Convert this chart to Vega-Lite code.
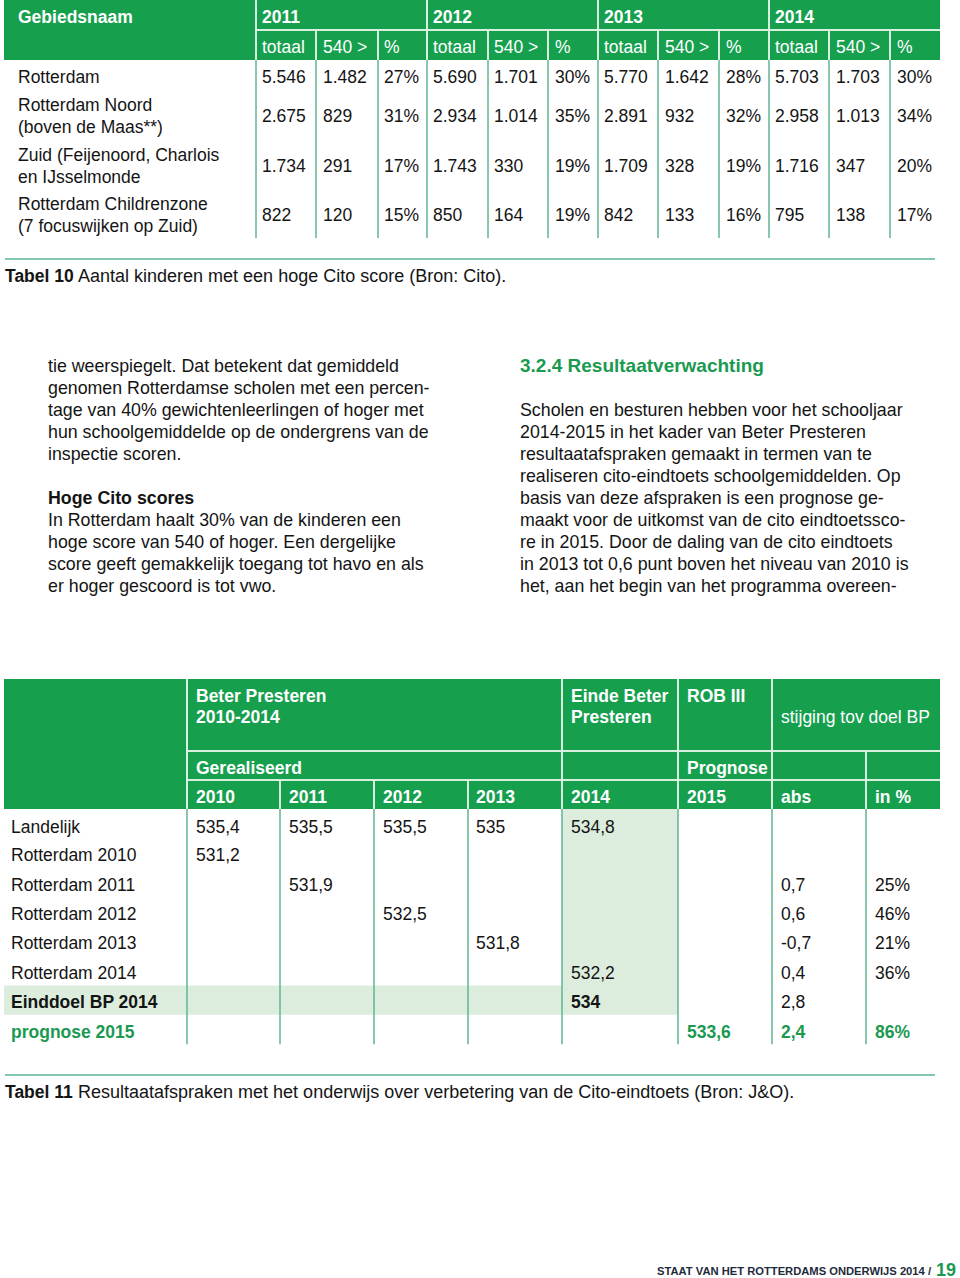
{
  "$schema": "https://vega.github.io/schema/vega-lite/v6.json",
  "width": 960,
  "height": 1278,
  "autosize": {"type": "none"},
  "padding": 0,
  "background": "#ffffff",
  "config": {"view": {"stroke": null}, "font": "Liberation Sans", "text": {"font": "Liberation Sans"}},
  "resolve": {"scale": {"x": "independent", "y": "independent", "color": "independent"}},
  "datasets": {
    "t1box": [{"c0": 0, "c1": 13, "r0": 0, "r1": 2}],
    "t1lines": [
      {"kind": "hdr", "c0": 1, "c1": 13, "r0": 1, "r1": 1},
      {"kind": "hdr", "c0": 1, "c1": 1, "r0": 0, "r1": 2},
      {"kind": "hdr", "c0": 4, "c1": 4, "r0": 0, "r1": 2},
      {"kind": "hdr", "c0": 7, "c1": 7, "r0": 0, "r1": 2},
      {"kind": "hdr", "c0": 10, "c1": 10, "r0": 0, "r1": 2},
      {"kind": "hdr", "c0": 2, "c1": 2, "r0": 1, "r1": 2},
      {"kind": "hdr", "c0": 3, "c1": 3, "r0": 1, "r1": 2},
      {"kind": "hdr", "c0": 5, "c1": 5, "r0": 1, "r1": 2},
      {"kind": "hdr", "c0": 6, "c1": 6, "r0": 1, "r1": 2},
      {"kind": "hdr", "c0": 8, "c1": 8, "r0": 1, "r1": 2},
      {"kind": "hdr", "c0": 9, "c1": 9, "r0": 1, "r1": 2},
      {"kind": "hdr", "c0": 11, "c1": 11, "r0": 1, "r1": 2},
      {"kind": "hdr", "c0": 12, "c1": 12, "r0": 1, "r1": 2},
      {"kind": "grid", "c0": 1, "c1": 1, "r0": 2, "r1": 6},
      {"kind": "grid", "c0": 2, "c1": 2, "r0": 2, "r1": 6},
      {"kind": "grid", "c0": 3, "c1": 3, "r0": 2, "r1": 6},
      {"kind": "grid", "c0": 4, "c1": 4, "r0": 2, "r1": 6},
      {"kind": "grid", "c0": 5, "c1": 5, "r0": 2, "r1": 6},
      {"kind": "grid", "c0": 6, "c1": 6, "r0": 2, "r1": 6},
      {"kind": "grid", "c0": 7, "c1": 7, "r0": 2, "r1": 6},
      {"kind": "grid", "c0": 8, "c1": 8, "r0": 2, "r1": 6},
      {"kind": "grid", "c0": 9, "c1": 9, "r0": 2, "r1": 6},
      {"kind": "grid", "c0": 10, "c1": 10, "r0": 2, "r1": 6},
      {"kind": "grid", "c0": 11, "c1": 11, "r0": 2, "r1": 6},
      {"kind": "grid", "c0": 12, "c1": 12, "r0": 2, "r1": 6}
    ],
    "t1": [
      {"row": 0, "col": 0, "kind": "head", "text": "Gebiedsnaam"},
      {"row": 0, "col": 1, "kind": "head", "text": "2011"},
      {"row": 0, "col": 4, "kind": "head", "text": "2012"},
      {"row": 0, "col": 7, "kind": "head", "text": "2013"},
      {"row": 0, "col": 10, "kind": "head", "text": "2014"},
      {"row": 1, "col": 1, "kind": "sub", "text": "totaal"},
      {"row": 1, "col": 2, "kind": "sub", "text": "540 >"},
      {"row": 1, "col": 3, "kind": "sub", "text": "%"},
      {"row": 1, "col": 4, "kind": "sub", "text": "totaal"},
      {"row": 1, "col": 5, "kind": "sub", "text": "540 >"},
      {"row": 1, "col": 6, "kind": "sub", "text": "%"},
      {"row": 1, "col": 7, "kind": "sub", "text": "totaal"},
      {"row": 1, "col": 8, "kind": "sub", "text": "540 >"},
      {"row": 1, "col": 9, "kind": "sub", "text": "%"},
      {"row": 1, "col": 10, "kind": "sub", "text": "totaal"},
      {"row": 1, "col": 11, "kind": "sub", "text": "540 >"},
      {"row": 1, "col": 12, "kind": "sub", "text": "%"},
      {"row": 2, "col": 0, "kind": "body", "text": "Rotterdam"},
      {"row": 2, "col": 1, "kind": "body", "text": "5.546"},
      {"row": 2, "col": 2, "kind": "body", "text": "1.482"},
      {"row": 2, "col": 3, "kind": "body", "text": "27%"},
      {"row": 2, "col": 4, "kind": "body", "text": "5.690"},
      {"row": 2, "col": 5, "kind": "body", "text": "1.701"},
      {"row": 2, "col": 6, "kind": "body", "text": "30%"},
      {"row": 2, "col": 7, "kind": "body", "text": "5.770"},
      {"row": 2, "col": 8, "kind": "body", "text": "1.642"},
      {"row": 2, "col": 9, "kind": "body", "text": "28%"},
      {"row": 2, "col": 10, "kind": "body", "text": "5.703"},
      {"row": 2, "col": 11, "kind": "body", "text": "1.703"},
      {"row": 2, "col": 12, "kind": "body", "text": "30%"},
      {"row": 3, "col": 0, "kind": "name2", "text": "Rotterdam Noord\n(boven de Maas**)"},
      {"row": 3, "col": 1, "kind": "body", "text": "2.675"},
      {"row": 3, "col": 2, "kind": "body", "text": "829"},
      {"row": 3, "col": 3, "kind": "body", "text": "31%"},
      {"row": 3, "col": 4, "kind": "body", "text": "2.934"},
      {"row": 3, "col": 5, "kind": "body", "text": "1.014"},
      {"row": 3, "col": 6, "kind": "body", "text": "35%"},
      {"row": 3, "col": 7, "kind": "body", "text": "2.891"},
      {"row": 3, "col": 8, "kind": "body", "text": "932"},
      {"row": 3, "col": 9, "kind": "body", "text": "32%"},
      {"row": 3, "col": 10, "kind": "body", "text": "2.958"},
      {"row": 3, "col": 11, "kind": "body", "text": "1.013"},
      {"row": 3, "col": 12, "kind": "body", "text": "34%"},
      {"row": 4, "col": 0, "kind": "name2", "text": "Zuid (Feijenoord, Charlois\nen IJsselmonde"},
      {"row": 4, "col": 1, "kind": "body", "text": "1.734"},
      {"row": 4, "col": 2, "kind": "body", "text": "291"},
      {"row": 4, "col": 3, "kind": "body", "text": "17%"},
      {"row": 4, "col": 4, "kind": "body", "text": "1.743"},
      {"row": 4, "col": 5, "kind": "body", "text": "330"},
      {"row": 4, "col": 6, "kind": "body", "text": "19%"},
      {"row": 4, "col": 7, "kind": "body", "text": "1.709"},
      {"row": 4, "col": 8, "kind": "body", "text": "328"},
      {"row": 4, "col": 9, "kind": "body", "text": "19%"},
      {"row": 4, "col": 10, "kind": "body", "text": "1.716"},
      {"row": 4, "col": 11, "kind": "body", "text": "347"},
      {"row": 4, "col": 12, "kind": "body", "text": "20%"},
      {"row": 5, "col": 0, "kind": "name2", "text": "Rotterdam Childrenzone\n(7 focuswijken op Zuid)"},
      {"row": 5, "col": 1, "kind": "body", "text": "822"},
      {"row": 5, "col": 2, "kind": "body", "text": "120"},
      {"row": 5, "col": 3, "kind": "body", "text": "15%"},
      {"row": 5, "col": 4, "kind": "body", "text": "850"},
      {"row": 5, "col": 5, "kind": "body", "text": "164"},
      {"row": 5, "col": 6, "kind": "body", "text": "19%"},
      {"row": 5, "col": 7, "kind": "body", "text": "842"},
      {"row": 5, "col": 8, "kind": "body", "text": "133"},
      {"row": 5, "col": 9, "kind": "body", "text": "16%"},
      {"row": 5, "col": 10, "kind": "body", "text": "795"},
      {"row": 5, "col": 11, "kind": "body", "text": "138"},
      {"row": 5, "col": 12, "kind": "body", "text": "17%"}
    ],
    "t2box": [
      {"kind": "head", "c0": 0, "c1": 9, "r0": 0, "r1": 3},
      {"kind": "light", "c0": 5, "c1": 6, "r0": 3, "r1": 10},
      {"kind": "light", "c0": 0, "c1": 5, "r0": 9, "r1": 10}
    ],
    "t2lines": [
      {"kind": "hdr", "c0": 1, "c1": 9, "r0": 1, "r1": 1},
      {"kind": "hdr", "c0": 1, "c1": 9, "r0": 2, "r1": 2},
      {"kind": "hdr", "c0": 1, "c1": 1, "r0": 0, "r1": 3},
      {"kind": "hdr", "c0": 5, "c1": 5, "r0": 0, "r1": 3},
      {"kind": "hdr", "c0": 6, "c1": 6, "r0": 0, "r1": 3},
      {"kind": "hdr", "c0": 7, "c1": 7, "r0": 0, "r1": 3},
      {"kind": "hdr", "c0": 8, "c1": 8, "r0": 1, "r1": 3},
      {"kind": "hdr", "c0": 2, "c1": 2, "r0": 2, "r1": 3},
      {"kind": "hdr", "c0": 3, "c1": 3, "r0": 2, "r1": 3},
      {"kind": "hdr", "c0": 4, "c1": 4, "r0": 2, "r1": 3},
      {"kind": "grid", "c0": 1, "c1": 1, "r0": 3, "r1": 11},
      {"kind": "grid", "c0": 2, "c1": 2, "r0": 3, "r1": 11},
      {"kind": "grid", "c0": 3, "c1": 3, "r0": 3, "r1": 11},
      {"kind": "grid", "c0": 4, "c1": 4, "r0": 3, "r1": 11},
      {"kind": "grid", "c0": 5, "c1": 5, "r0": 3, "r1": 11},
      {"kind": "grid", "c0": 6, "c1": 6, "r0": 3, "r1": 11},
      {"kind": "grid", "c0": 7, "c1": 7, "r0": 3, "r1": 11},
      {"kind": "grid", "c0": 8, "c1": 8, "r0": 3, "r1": 11}
    ],
    "t2": [
      {"row": 0, "col": 1, "kind": "head", "text": "Beter Presteren"},
      {"row": 1, "col": 1, "kind": "head", "text": "2010-2014"},
      {"row": 0, "col": 5, "kind": "head", "text": "Einde Beter"},
      {"row": 1, "col": 5, "kind": "head", "text": "Presteren"},
      {"row": 0, "col": 6, "kind": "head", "text": "ROB III"},
      {"row": 1, "col": 7, "kind": "headn", "text": "stijging tov doel BP"},
      {"row": 2, "col": 1, "kind": "head", "text": "Gerealiseerd"},
      {"row": 2, "col": 6, "kind": "head", "text": "Prognose"},
      {"row": 3, "col": 1, "kind": "head", "text": "2010"},
      {"row": 3, "col": 2, "kind": "head", "text": "2011"},
      {"row": 3, "col": 3, "kind": "head", "text": "2012"},
      {"row": 3, "col": 4, "kind": "head", "text": "2013"},
      {"row": 3, "col": 5, "kind": "head", "text": "2014"},
      {"row": 3, "col": 6, "kind": "head", "text": "2015"},
      {"row": 3, "col": 7, "kind": "head", "text": "abs"},
      {"row": 3, "col": 8, "kind": "head", "text": "in %"},
      {"row": 4, "col": 0, "kind": "body", "text": "Landelijk"},
      {"row": 4, "col": 1, "kind": "body", "text": "535,4"},
      {"row": 4, "col": 2, "kind": "body", "text": "535,5"},
      {"row": 4, "col": 3, "kind": "body", "text": "535,5"},
      {"row": 4, "col": 4, "kind": "body", "text": "535"},
      {"row": 4, "col": 5, "kind": "body", "text": "534,8"},
      {"row": 5, "col": 0, "kind": "body", "text": "Rotterdam 2010"},
      {"row": 5, "col": 1, "kind": "body", "text": "531,2"},
      {"row": 6, "col": 0, "kind": "body", "text": "Rotterdam 2011"},
      {"row": 6, "col": 2, "kind": "body", "text": "531,9"},
      {"row": 6, "col": 7, "kind": "body", "text": "0,7"},
      {"row": 6, "col": 8, "kind": "body", "text": "25%"},
      {"row": 7, "col": 0, "kind": "body", "text": "Rotterdam 2012"},
      {"row": 7, "col": 3, "kind": "body", "text": "532,5"},
      {"row": 7, "col": 7, "kind": "body", "text": "0,6"},
      {"row": 7, "col": 8, "kind": "body", "text": "46%"},
      {"row": 8, "col": 0, "kind": "body", "text": "Rotterdam 2013"},
      {"row": 8, "col": 4, "kind": "body", "text": "531,8"},
      {"row": 8, "col": 7, "kind": "body", "text": "-0,7"},
      {"row": 8, "col": 8, "kind": "body", "text": "21%"},
      {"row": 9, "col": 0, "kind": "body", "text": "Rotterdam 2014"},
      {"row": 9, "col": 5, "kind": "body", "text": "532,2"},
      {"row": 9, "col": 7, "kind": "body", "text": "0,4"},
      {"row": 9, "col": 8, "kind": "body", "text": "36%"},
      {"row": 10, "col": 0, "kind": "bold", "text": "Einddoel BP 2014"},
      {"row": 10, "col": 5, "kind": "bold", "text": "534"},
      {"row": 10, "col": 7, "kind": "body", "text": "2,8"},
      {"row": 11, "col": 0, "kind": "green", "text": "prognose 2015"},
      {"row": 11, "col": 6, "kind": "green", "text": "533,6"},
      {"row": 11, "col": 7, "kind": "green", "text": "2,4"},
      {"row": 11, "col": 8, "kind": "green", "text": "86%"}
    ],
    "para": [
      {"col": 0, "line": 0, "kind": "text", "text": "tie weerspiegelt. Dat betekent dat gemiddeld"},
      {"col": 0, "line": 1, "kind": "text", "text": "genomen Rotterdamse scholen met een percen-"},
      {"col": 0, "line": 2, "kind": "text", "text": "tage van 40% gewichtenleerlingen of hoger met"},
      {"col": 0, "line": 3, "kind": "text", "text": "hun schoolgemiddelde op de ondergrens van de"},
      {"col": 0, "line": 4, "kind": "text", "text": "inspectie scoren."},
      {"col": 0, "line": 6, "kind": "bold", "text": "Hoge Cito scores"},
      {"col": 0, "line": 7, "kind": "text", "text": "In Rotterdam haalt 30% van de kinderen een"},
      {"col": 0, "line": 8, "kind": "text", "text": "hoge score van 540 of hoger. Een dergelijke"},
      {"col": 0, "line": 9, "kind": "text", "text": "score geeft gemakkelijk toegang tot havo en als"},
      {"col": 0, "line": 10, "kind": "text", "text": "er hoger gescoord is tot vwo."},
      {"col": 1, "line": 0, "kind": "heading", "text": "3.2.4 Resultaatverwachting"},
      {"col": 1, "line": 2, "kind": "text", "text": "Scholen en besturen hebben voor het schooljaar"},
      {"col": 1, "line": 3, "kind": "text", "text": "2014-2015 in het kader van Beter Presteren"},
      {"col": 1, "line": 4, "kind": "text", "text": "resultaatafspraken gemaakt in termen van te"},
      {"col": 1, "line": 5, "kind": "text", "text": "realiseren cito-eindtoets schoolgemiddelden. Op"},
      {"col": 1, "line": 6, "kind": "text", "text": "basis van deze afspraken is een prognose ge-"},
      {"col": 1, "line": 7, "kind": "text", "text": "maakt voor de uitkomst van de cito eindtoetssco-"},
      {"col": 1, "line": 8, "kind": "text", "text": "re in 2015. Door de daling van de cito eindtoets"},
      {"col": 1, "line": 9, "kind": "text", "text": "in 2013 tot 0,6 punt boven het niveau van 2010 is"},
      {"col": 1, "line": 10, "kind": "text", "text": "het, aan het begin van het programma overeen-"}
    ],
    "captions": [
      {"caption": 0, "part": 0, "text": "Tabel 10"},
      {"caption": 0, "part": 1, "text": "Aantal kinderen met een hoge Cito score (Bron: Cito)."},
      {"caption": 1, "part": 0, "text": "Tabel 11"},
      {"caption": 1, "part": 1, "text": "Resultaatafspraken met het onderwijs over verbetering van de Cito-eindtoets (Bron: J&O)."}
    ],
    "seps": [
      {"caption": 0, "from": 0, "to": 1},
      {"caption": 1, "from": 0, "to": 1}
    ],
    "footer": [
      {"part": 0, "text": "STAAT VAN HET ROTTERDAMS ONDERWIJS 2014 /"},
      {"part": 1, "text": "19"}
    ]
  },
  "layer": [
    {
      "data": {"name": "t1box"},
      "mark": {"type": "rect", "fill": "#16a04e", "strokeWidth": 0},
      "encoding": {
        "x": {"field": "c0", "type": "quantitative", "axis": null, "scale": {"domain": [0,1,2,3,4,5,6,7,8,9,10,11,12,13], "range": [4,256,316,378,427,488,548,598,658,719,769,829,890,940], "nice": false, "zero": false}},
        "x2": {"field": "c1"},
        "y": {"field": "r0", "type": "quantitative", "axis": null, "scale": {"domain": [0,1,2,3,4,5,6], "range": [0,30,60,91,140,190,238], "nice": false, "zero": false}},
        "y2": {"field": "r1"}
      }
    },
    {
      "data": {"name": "t1lines"},
      "transform": [{"filter": "datum.kind === 'hdr'"}],
      "mark": {"type": "rule", "color": "#d8f0df", "strokeWidth": 2},
      "encoding": {
        "x": {"field": "c0", "type": "quantitative", "axis": null, "scale": {"domain": [0,1,2,3,4,5,6,7,8,9,10,11,12,13], "range": [4,256,316,378,427,488,548,598,658,719,769,829,890,940], "nice": false, "zero": false}},
        "x2": {"field": "c1"},
        "y": {"field": "r0", "type": "quantitative", "axis": null, "scale": {"domain": [0,1,2,3,4,5,6], "range": [0,30,60,91,140,190,238], "nice": false, "zero": false}},
        "y2": {"field": "r1"}
      }
    },
    {
      "data": {"name": "t1lines"},
      "transform": [{"filter": "datum.kind === 'grid'"}],
      "mark": {"type": "rule", "color": "#5fb592", "strokeWidth": 1.5},
      "encoding": {
        "x": {"field": "c0", "type": "quantitative", "axis": null, "scale": {"domain": [0,1,2,3,4,5,6,7,8,9,10,11,12,13], "range": [4,256,316,378,427,488,548,598,658,719,769,829,890,940], "nice": false, "zero": false}},
        "x2": {"field": "c1"},
        "y": {"field": "r0", "type": "quantitative", "axis": null, "scale": {"domain": [0,1,2,3,4,5,6], "range": [0,30,60,91,140,190,238], "nice": false, "zero": false}},
        "y2": {"field": "r1"}
      }
    },
    {
      "data": {"name": "t1"},
      "transform": [{"filter": "datum.kind === 'head'"}],
      "mark": {"type": "text", "align": "left", "baseline": "middle", "fontSize": 17.5, "fontWeight": "bold", "color": "#ffffff"},
      "encoding": {
        "x": {"field": "col", "type": "quantitative", "axis": null, "scale": {"domain": [0,1,2,3,4,5,6,7,8,9,10,11,12], "range": [18,262,323,384,433,494,555,604,665,726,775,836,897], "nice": false, "zero": false}},
        "y": {"field": "row", "type": "quantitative", "axis": null, "scale": {"domain": [0,1,2,3,4,5], "range": [18,48,78,117,167,216], "nice": false, "zero": false}},
        "text": {"field": "text"}
      }
    },
    {
      "data": {"name": "t1"},
      "transform": [{"filter": "datum.kind === 'sub'"}],
      "mark": {"type": "text", "align": "left", "baseline": "middle", "fontSize": 17.5, "color": "#ffffff"},
      "encoding": {
        "x": {"field": "col", "type": "quantitative", "axis": null, "scale": {"domain": [0,1,2,3,4,5,6,7,8,9,10,11,12], "range": [18,262,323,384,433,494,555,604,665,726,775,836,897], "nice": false, "zero": false}},
        "y": {"field": "row", "type": "quantitative", "axis": null, "scale": {"domain": [0,1,2,3,4,5], "range": [18,48,78,117,167,216], "nice": false, "zero": false}},
        "text": {"field": "text"}
      }
    },
    {
      "data": {"name": "t1"},
      "transform": [{"filter": "datum.kind === 'body'"}],
      "mark": {"type": "text", "align": "left", "baseline": "middle", "fontSize": 17.5, "color": "#141414"},
      "encoding": {
        "x": {"field": "col", "type": "quantitative", "axis": null, "scale": {"domain": [0,1,2,3,4,5,6,7,8,9,10,11,12], "range": [18,262,323,384,433,494,555,604,665,726,775,836,897], "nice": false, "zero": false}},
        "y": {"field": "row", "type": "quantitative", "axis": null, "scale": {"domain": [0,1,2,3,4,5], "range": [18,48,78,117,167,216], "nice": false, "zero": false}},
        "text": {"field": "text"}
      }
    },
    {
      "data": {"name": "t1"},
      "transform": [{"filter": "datum.kind === 'name2'"}],
      "mark": {"type": "text", "align": "left", "baseline": "middle", "fontSize": 17.5, "color": "#141414", "lineBreak": "\n", "lineHeight": 22, "dy": -11},
      "encoding": {
        "x": {"field": "col", "type": "quantitative", "axis": null, "scale": {"domain": [0,1,2,3,4,5,6,7,8,9,10,11,12], "range": [18,262,323,384,433,494,555,604,665,726,775,836,897], "nice": false, "zero": false}},
        "y": {"field": "row", "type": "quantitative", "axis": null, "scale": {"domain": [0,1,2,3,4,5], "range": [18,48,78,117,167,216], "nice": false, "zero": false}},
        "text": {"field": "text"}
      }
    },
    {
      "data": {"name": "t2box"},
      "mark": {"type": "rect", "strokeWidth": 0},
      "encoding": {
        "x": {"field": "c0", "type": "quantitative", "axis": null, "scale": {"domain": [0,1,2,3,4,5,6,7,8,9], "range": [4,187,280,374,468,562,678,772,866,940], "nice": false, "zero": false}},
        "x2": {"field": "c1"},
        "y": {"field": "r0", "type": "quantitative", "axis": null, "scale": {"domain": [0,1,2,3,4,5,6,7,8,9,10,11], "range": [679,751,780,809,838.4,867.8,897.2,926.6,956,985.4,1014.8,1044.2], "nice": false, "zero": false}},
        "y2": {"field": "r1"},
        "fill": {"field": "kind", "type": "nominal", "legend": null, "scale": {"domain": ["head", "light"], "range": ["#16a04e", "#dcedde"]}}
      }
    },
    {
      "data": {"name": "t2lines"},
      "transform": [{"filter": "datum.kind === 'hdr'"}],
      "mark": {"type": "rule", "color": "#d8f0df", "strokeWidth": 2},
      "encoding": {
        "x": {"field": "c0", "type": "quantitative", "axis": null, "scale": {"domain": [0,1,2,3,4,5,6,7,8,9], "range": [4,187,280,374,468,562,678,772,866,940], "nice": false, "zero": false}},
        "x2": {"field": "c1"},
        "y": {"field": "r0", "type": "quantitative", "axis": null, "scale": {"domain": [0,1,2,3,4,5,6,7,8,9,10,11], "range": [679,751,780,809,838.4,867.8,897.2,926.6,956,985.4,1014.8,1044.2], "nice": false, "zero": false}},
        "y2": {"field": "r1"}
      }
    },
    {
      "data": {"name": "t2lines"},
      "transform": [{"filter": "datum.kind === 'grid'"}],
      "mark": {"type": "rule", "color": "#5fb592", "strokeWidth": 1.5},
      "encoding": {
        "x": {"field": "c0", "type": "quantitative", "axis": null, "scale": {"domain": [0,1,2,3,4,5,6,7,8,9], "range": [4,187,280,374,468,562,678,772,866,940], "nice": false, "zero": false}},
        "x2": {"field": "c1"},
        "y": {"field": "r0", "type": "quantitative", "axis": null, "scale": {"domain": [0,1,2,3,4,5,6,7,8,9,10,11], "range": [679,751,780,809,838.4,867.8,897.2,926.6,956,985.4,1014.8,1044.2], "nice": false, "zero": false}},
        "y2": {"field": "r1"}
      }
    },
    {
      "data": {"name": "t2"},
      "transform": [{"filter": "datum.kind === 'head'"}],
      "mark": {"type": "text", "align": "left", "baseline": "middle", "fontSize": 17.5, "fontWeight": "bold", "color": "#ffffff"},
      "encoding": {
        "x": {"field": "col", "type": "quantitative", "axis": null, "scale": {"domain": [0,1,2,3,4,5,6,7,8], "range": [11,196,289,383,476,571,687,781,875], "nice": false, "zero": false}},
        "y": {"field": "row", "type": "quantitative", "axis": null, "scale": {"domain": [0,1,2,3,4,5,6,7,8,9,10,11], "range": [697,718,769,798,828,856,886,915,944,974,1003,1033], "nice": false, "zero": false}},
        "text": {"field": "text"}
      }
    },
    {
      "data": {"name": "t2"},
      "transform": [{"filter": "datum.kind === 'headn'"}],
      "mark": {"type": "text", "align": "left", "baseline": "middle", "fontSize": 17.5, "color": "#ffffff"},
      "encoding": {
        "x": {"field": "col", "type": "quantitative", "axis": null, "scale": {"domain": [0,1,2,3,4,5,6,7,8], "range": [11,196,289,383,476,571,687,781,875], "nice": false, "zero": false}},
        "y": {"field": "row", "type": "quantitative", "axis": null, "scale": {"domain": [0,1,2,3,4,5,6,7,8,9,10,11], "range": [697,718,769,798,828,856,886,915,944,974,1003,1033], "nice": false, "zero": false}},
        "text": {"field": "text"}
      }
    },
    {
      "data": {"name": "t2"},
      "transform": [{"filter": "datum.kind === 'body'"}],
      "mark": {"type": "text", "align": "left", "baseline": "middle", "fontSize": 17.5, "color": "#141414"},
      "encoding": {
        "x": {"field": "col", "type": "quantitative", "axis": null, "scale": {"domain": [0,1,2,3,4,5,6,7,8], "range": [11,196,289,383,476,571,687,781,875], "nice": false, "zero": false}},
        "y": {"field": "row", "type": "quantitative", "axis": null, "scale": {"domain": [0,1,2,3,4,5,6,7,8,9,10,11], "range": [697,718,769,798,828,856,886,915,944,974,1003,1033], "nice": false, "zero": false}},
        "text": {"field": "text"}
      }
    },
    {
      "data": {"name": "t2"},
      "transform": [{"filter": "datum.kind === 'bold'"}],
      "mark": {"type": "text", "align": "left", "baseline": "middle", "fontSize": 17.5, "fontWeight": "bold", "color": "#141414"},
      "encoding": {
        "x": {"field": "col", "type": "quantitative", "axis": null, "scale": {"domain": [0,1,2,3,4,5,6,7,8], "range": [11,196,289,383,476,571,687,781,875], "nice": false, "zero": false}},
        "y": {"field": "row", "type": "quantitative", "axis": null, "scale": {"domain": [0,1,2,3,4,5,6,7,8,9,10,11], "range": [697,718,769,798,828,856,886,915,944,974,1003,1033], "nice": false, "zero": false}},
        "text": {"field": "text"}
      }
    },
    {
      "data": {"name": "t2"},
      "transform": [{"filter": "datum.kind === 'green'"}],
      "mark": {"type": "text", "align": "left", "baseline": "middle", "fontSize": 17.5, "fontWeight": "bold", "color": "#1a9a50"},
      "encoding": {
        "x": {"field": "col", "type": "quantitative", "axis": null, "scale": {"domain": [0,1,2,3,4,5,6,7,8], "range": [11,196,289,383,476,571,687,781,875], "nice": false, "zero": false}},
        "y": {"field": "row", "type": "quantitative", "axis": null, "scale": {"domain": [0,1,2,3,4,5,6,7,8,9,10,11], "range": [697,718,769,798,828,856,886,915,944,974,1003,1033], "nice": false, "zero": false}},
        "text": {"field": "text"}
      }
    },
    {
      "data": {"name": "seps"},
      "mark": {"type": "rule", "color": "#5ab595", "strokeWidth": 1.5},
      "encoding": {
        "x": {"field": "from", "type": "quantitative", "axis": null, "scale": {"domain": [0, 1], "range": [5, 935], "nice": false, "zero": false}},
        "x2": {"field": "to"},
        "y": {"field": "caption", "type": "quantitative", "axis": null, "scale": {"domain": [0, 1], "range": [259, 1075], "nice": false, "zero": false}}
      }
    },
    {
      "data": {"name": "captions"},
      "transform": [{"filter": "datum.part === 0"}],
      "mark": {"type": "text", "align": "left", "baseline": "middle", "fontSize": 17.5, "fontWeight": "bold", "color": "#141414"},
      "encoding": {
        "x": {"field": "part", "type": "quantitative", "axis": null, "scale": {"domain": [0, 1], "range": [5, 78], "nice": false, "zero": false}},
        "y": {"field": "caption", "type": "quantitative", "axis": null, "scale": {"domain": [0, 1], "range": [277, 1093], "nice": false, "zero": false}},
        "text": {"field": "text"}
      }
    },
    {
      "data": {"name": "captions"},
      "transform": [{"filter": "datum.part === 1"}],
      "mark": {"type": "text", "align": "left", "baseline": "middle", "fontSize": 18, "color": "#141414"},
      "encoding": {
        "x": {"field": "part", "type": "quantitative", "axis": null, "scale": {"domain": [0, 1], "range": [5, 78], "nice": false, "zero": false}},
        "y": {"field": "caption", "type": "quantitative", "axis": null, "scale": {"domain": [0, 1], "range": [277, 1093], "nice": false, "zero": false}},
        "text": {"field": "text"}
      }
    },
    {
      "data": {"name": "para"},
      "transform": [{"filter": "datum.kind === 'text'"}],
      "mark": {"type": "text", "align": "left", "baseline": "middle", "fontSize": 17.8, "color": "#141414"},
      "encoding": {
        "x": {"field": "col", "type": "quantitative", "axis": null, "scale": {"domain": [0, 1], "range": [48, 520], "nice": false, "zero": false}},
        "y": {"field": "line", "type": "quantitative", "axis": null, "scale": {"domain": [0, 10], "range": [367, 587], "nice": false, "zero": false}},
        "text": {"field": "text"}
      }
    },
    {
      "data": {"name": "para"},
      "transform": [{"filter": "datum.kind === 'bold'"}],
      "mark": {"type": "text", "align": "left", "baseline": "middle", "fontSize": 17.8, "fontWeight": "bold", "color": "#141414"},
      "encoding": {
        "x": {"field": "col", "type": "quantitative", "axis": null, "scale": {"domain": [0, 1], "range": [48, 520], "nice": false, "zero": false}},
        "y": {"field": "line", "type": "quantitative", "axis": null, "scale": {"domain": [0, 10], "range": [367, 587], "nice": false, "zero": false}},
        "text": {"field": "text"}
      }
    },
    {
      "data": {"name": "para"},
      "transform": [{"filter": "datum.kind === 'heading'"}],
      "mark": {"type": "text", "align": "left", "baseline": "middle", "fontSize": 19, "fontWeight": "bold", "color": "#1a9a50"},
      "encoding": {
        "x": {"field": "col", "type": "quantitative", "axis": null, "scale": {"domain": [0, 1], "range": [48, 520], "nice": false, "zero": false}},
        "y": {"field": "line", "type": "quantitative", "axis": null, "scale": {"domain": [0, 10], "range": [366, 586], "nice": false, "zero": false}},
        "text": {"field": "text"}
      }
    },
    {
      "data": {"name": "footer"},
      "transform": [{"filter": "datum.part === 0"}],
      "mark": {"type": "text", "align": "right", "baseline": "alphabetic", "fontSize": 11.2, "fontWeight": "bold", "color": "#1e2a3a"},
      "encoding": {
        "x": {"field": "part", "type": "quantitative", "axis": null, "scale": {"domain": [0, 1], "range": [931, 937], "nice": false, "zero": false}},
        "y": {"field": "part", "type": "quantitative", "axis": null, "scale": {"domain": [0, 1], "range": [1275, 1275.5], "nice": false, "zero": false}},
        "text": {"field": "text"}
      }
    },
    {
      "data": {"name": "footer"},
      "transform": [{"filter": "datum.part === 1"}],
      "mark": {"type": "text", "align": "left", "baseline": "alphabetic", "fontSize": 18, "fontWeight": "bold", "color": "#1a9a50"},
      "encoding": {
        "x": {"field": "part", "type": "quantitative", "axis": null, "scale": {"domain": [0, 1], "range": [931, 936], "nice": false, "zero": false}},
        "y": {"field": "part", "type": "quantitative", "axis": null, "scale": {"domain": [0, 1], "range": [1275, 1275.5], "nice": false, "zero": false}},
        "text": {"field": "text"}
      }
    }
  ]
}
